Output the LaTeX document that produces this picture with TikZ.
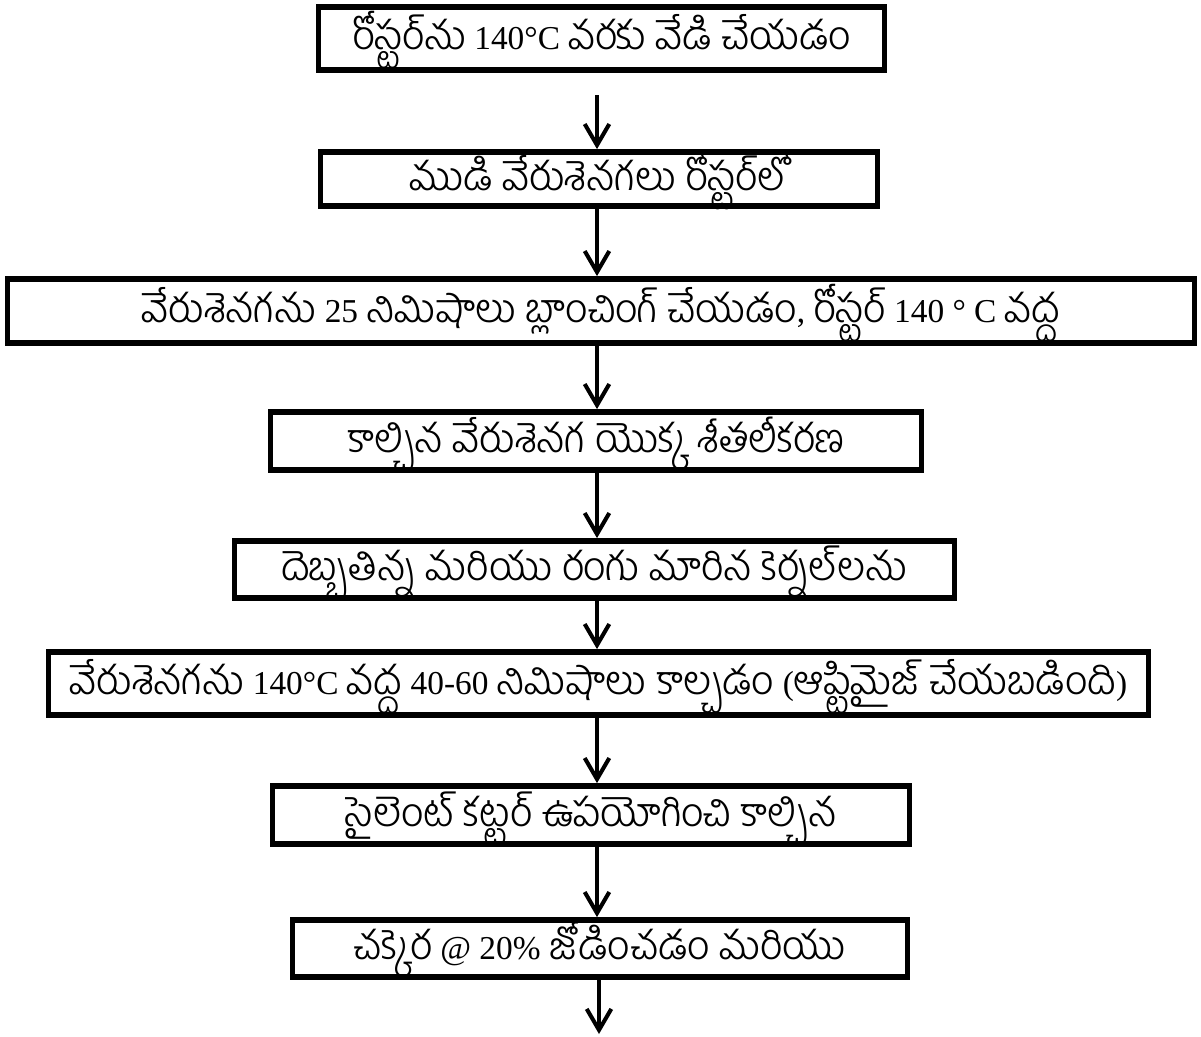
\documentclass[tikz,border=0pt]{standalone}
\usepackage{fontspec}
\setmainfont{Liberation Serif}
\newfontfamily\te[Script=Telugu,Scale=1.2]{Hind Guntur Light}
\usetikzlibrary{arrows.meta}
\begin{document}
\begin{tikzpicture}[x=0.02cm,y=-0.02cm,
  box/.style={draw,line width=3.3pt,inner sep=0pt,align=center,
    text height=15pt,text depth=2.4pt,font=\fontsize{19}{22}\selectfont},
  arr/.style={line width=2.3pt,-{Straight Barb[length=12pt,width=14pt,line width=2.3pt]}}]
\useasboundingbox (0,0) rectangle (1201,1036);
\node[box,minimum width=566*0.02cm,minimum height=63*0.02cm] (b1) at (601.5,38.5)
  {{\te రోస్టర్^^^^200cను} 140°C {\te వరకు వేడి చేయడం}};
\node[box,minimum width=557*0.02cm,minimum height=54*0.02cm] (b2) at (599,179)
  {\te ముడి వేరుశెనగలు రోస్టర్^^^^200cలో};
\node[box,minimum width=1187*0.02cm,minimum height=64*0.02cm] (b3) at (601,311)
  {{\te వేరుశెనగను} 25 {\te నిమిషాలు బ్లాంచింగ్ చేయడం}, {\te రోస్టర్} 140 ° C {\te వద్ద}};
\node[box,minimum width=651*0.02cm,minimum height=58*0.02cm] (b4) at (596,441)
  {\te కాల్చిన వేరుశెనగ యొక్క శీతలీకరణ};
\node[box,minimum width=720*0.02cm,minimum height=57*0.02cm] (b5) at (594.5,569.5)
  {\te దెబ్బతిన్న మరియు రంగు మారిన కెర్నల్^^^^200cలను};
\node[box,minimum width=1100*0.02cm,minimum height=63*0.02cm] (b6) at (598.5,683.5)
  {{\te వేరుశెనగను} 140°C {\te వద్ద} 40-60 {\te నిమిషాలు కాల్చడం} ({\te ఆప్టిమైజ్ చేయబడింది})};
\node[box,minimum width=637*0.02cm,minimum height=58*0.02cm] (b7) at (591,815)
  {\te సైలెంట్ కట్టర్ ఉపయోగించి కాల్చిన};
\node[box,minimum width=615*0.02cm,minimum height=57*0.02cm] (b8) at (600,948.5)
  {{\te చక్కెర} @ 20\% {\te జోడించడం మరియు}};
\coordinate (a0) at (597,95);
\coordinate (aend) at (599,1034);
\draw[arr] (a0) -- (b2.north -| a0);
\draw[arr] (b2.south -| a0) -- (b3.north -| a0);
\draw[arr] (b3.south -| a0) -- (b4.north -| a0);
\draw[arr] (b4.south -| a0) -- (b5.north -| a0);
\draw[arr] (b5.south -| a0) -- (b6.north -| a0);
\draw[arr] (b6.south -| a0) -- (b7.north -| a0);
\draw[arr] (b7.south -| a0) -- (b8.north -| a0);
\draw[arr] (b8.south -| aend) -- (aend);
\end{tikzpicture}
\end{document}
